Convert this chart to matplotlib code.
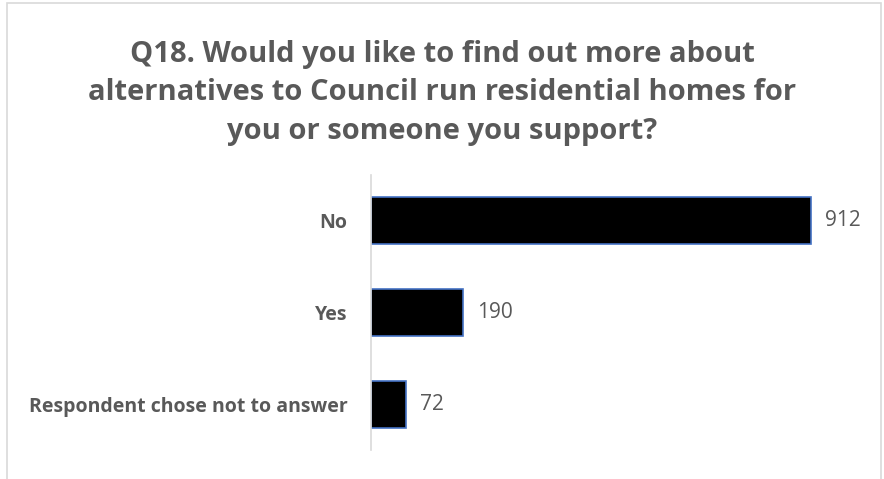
import matplotlib
matplotlib.use("Agg")
import matplotlib.pyplot as plt
from matplotlib.patches import Rectangle

plt.rcParams["font.family"] = ["Open Sans", "DejaVu Sans"]

TITLE = ("Q18. Would you like to find out more about\n"
         "alternatives to Council run residential homes for\n"
         "you or someone you support?")
categories = ["No", "Yes", "Respondent chose not to answer"]
counts = [912, 190, 72]

GREY = "#595959"
W, H = 884, 479
fig = plt.figure(figsize=(W / 100, H / 100), dpi=100)

# chart border (bottom edge runs off the image)
fig.patches.append(Rectangle((7 / W, -0.05), (881 - 7) / W, 1.05 - 3 / H,
                             transform=fig.transFigure, fill=False,
                             edgecolor="#d9d9d9", lw=1.2))

ax = fig.add_axes([371 / W, 1 - 450 / H, (853 - 371) / W, (450 - 175) / H])
y = list(range(len(categories)))[::-1]
ax.barh(y, counts, height=0.51, color="black", edgecolor="#4472c4", linewidth=1.2)
ax.set_xlim(0, 1000)
ax.set_ylim(-0.5, len(categories) - 0.5)
ax.set_yticks(y)
ax.set_yticklabels(categories, fontsize=14, fontweight="bold", color=GREY)
ax.set_xticks([])
ax.tick_params(axis="y", length=0, pad=17)
for s in ["top", "right", "bottom"]:
    ax.spines[s].set_visible(False)
ax.spines["left"].set_color("#d9d9d9")
ax.spines["left"].set_linewidth(1.2)
for yi, v in zip(y, counts):
    ax.text(v + 30, yi, str(v), va="center", ha="left", fontsize=15, color=GREY)

fig.text(0.5, 1 - 93 / H, TITLE, ha="center", va="center", fontsize=21,
         fontweight="bold", color=GREY, linespacing=1.45)

fig.savefig("out.png", dpi=100)
